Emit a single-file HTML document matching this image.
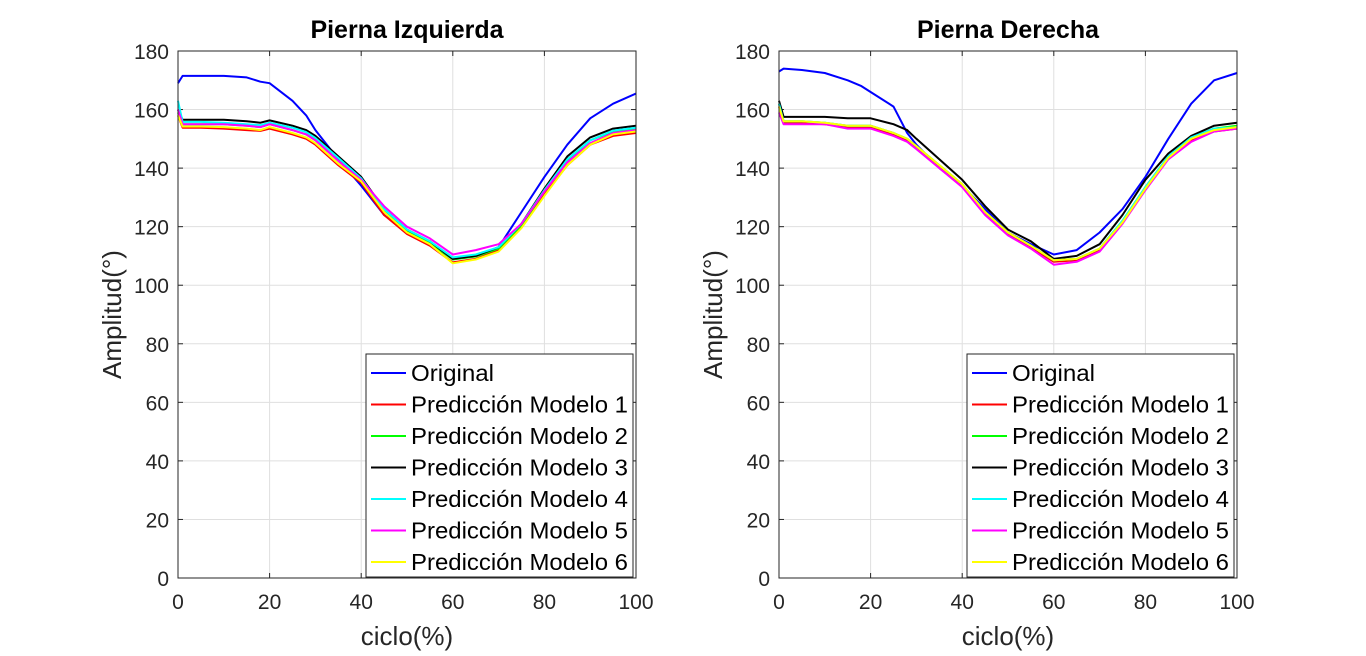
<!DOCTYPE html>
<html><head><meta charset="utf-8"><style>
body{margin:0;background:#fff;font-family:"Liberation Sans",sans-serif}
svg text{font-family:"Liberation Sans",sans-serif}
</style></head><body>
<svg id="c" width="1366" height="651"></svg>
<script>
const X = [0,1,5,10,15,18,20,25,28,30,35,40,45,50,55,60,65,70,75,80,85,90,95,100];
const xTicks = [0,20,40,60,80,100];
const yTicks = [0,20,40,60,80,100,120,140,160,180];
const seriesNames = ["Original","Predicción Modelo 1","Predicción Modelo 2","Predicción Modelo 3","Predicción Modelo 4","Predicción Modelo 5","Predicción Modelo 6"];
const seriesColors = ["#0000ff","#ff0000","#00ff00","#000000","#00ffff","#ff00ff","#ffff00"];
// left leg
const L_orig = [169,171.5,171.5,171.5,171,169.5,169,163,158,153,143,134,124,118,114,109,110,113,125,137,148,157,162,165.5];
const L_m1 = [158,153.8,153.8,153.5,153,152.7,153.5,151.5,150,148,141,135,124,117.5,113.5,107.8,109,112,120,131,141,148,151,152];
const L_m2 = [159,155,155,155,154.5,154,155,153,151.5,149.5,142.5,136,125.5,118.5,114.5,108.8,109.8,112.5,120.5,132,142.5,149.5,152.5,153.5];
const L_m3 = [160,156.5,156.5,156.5,156,155.5,156.3,154.5,153,151,144,137,126,119,115,109,110,113,121,133,144,150.5,153.5,154.5];
const L_m4 = [163,155.8,155.8,155.5,155,154.7,155.5,153.8,152.3,150.3,143.5,136.5,126,119,115,109.5,110.5,113,121,132.5,143,149.5,152.8,153.8];
const L_m5 = [160,155,155,155,154.5,154,155,153,151.5,149.5,142.5,136,127,120,116,110.5,112,114,121,132,142,148.5,152,153];
const L_m6 = [158,154.2,154.2,154,153.5,153,154,152,150.5,148.5,141.5,135.5,125,118,114,107.5,108.8,111.5,119.5,130.5,141,148,151.5,152.5];
// right leg
const R_orig = [173,174,173.5,172.5,170,168,166,161,152,148,140,134,126,118,114,110.5,112,118,126,137,150,162,170,172.5];
const R_m1 = [161,155.5,155.5,155,154,154,153.8,151.5,149.5,147,140.5,134,124.5,117.5,113,108,108.5,112,121.5,133,143.5,149.5,152.5,153.5];
const R_m2 = [162,156,156,155.5,154.5,154.5,154.5,152,150,147.5,141,134.5,125,118,113.5,108.5,109,112.5,122,133.5,144,150.5,153.5,154.5];
const R_m3 = [163,157.5,157.5,157.5,157,157,157,155,153,150,143,136,127,119,115,109,110,114,124,136,145,151,154.5,155.5];
const R_m4 = [162,156,156,155.5,154.5,154.5,154.5,152,150,147.5,141,134.5,125,118,113.5,108.5,109,112.5,122,133.5,144,150.5,153.5,154];
const R_m5 = [159,155,155,155,153.5,153.5,153.5,151,149,146.5,140,133.5,124,117,112.5,107,108,111.5,121,132.5,143,149,152.5,153.5];
const R_m6 = [161,156,156,155.5,154.5,154.5,154.5,152,150,147.5,141,134.5,125,118,113.5,108.5,109,112.5,121.5,133,143.5,150,153,154];

const NS="http://www.w3.org/2000/svg";
const svg=document.getElementById('c');
function el(t,a,p){const e=document.createElementNS(NS,t);for(const k in a)e.setAttribute(k,a[k]);(p||svg).appendChild(e);return e;}

function panel(x0,title,data,key){
  const x1=x0+458, yTop=51, yBot=578;
  const sx=v=>x0+(v/100)*(x1-x0);
  const sy=v=>yBot-(v/180)*(yBot-yTop);
  const g=el('g',{});
  
  
  el('rect',{x:x0,y:yTop,width:x1-x0,height:yBot-yTop,fill:'#fff'},g);
  xTicks.forEach(t=>{
    const l=el('line',{x1:sx(t),x2:sx(t),y1:yTop,y2:yBot,stroke:'#dfdfdf','stroke-width':1},g);
    
    
    el('line',{x1:sx(t),x2:sx(t),y1:yBot,y2:yBot-5,stroke:'#262626'},g);
    el('line',{x1:sx(t),x2:sx(t),y1:yTop,y2:yTop+5,stroke:'#262626'},g);
    const tx=el('text',{x:sx(t),y:yBot+31,'text-anchor':'middle','font-size':21,fill:'#262626'},g);
    tx.textContent=t;
    
    
  });
  yTicks.forEach(t=>{
    const l=el('line',{x1:x0,x2:x1,y1:sy(t),y2:sy(t),stroke:'#dfdfdf','stroke-width':1},g);
    
    
    el('line',{x1:x0,x2:x0+5,y1:sy(t),y2:sy(t),stroke:'#262626'},g);
    el('line',{x1:x1,x2:x1-5,y1:sy(t),y2:sy(t),stroke:'#262626'},g);
    const tx=el('text',{x:x0-9,y:sy(t)+8,'text-anchor':'end','font-size':21,fill:'#262626'},g);
    tx.textContent=t;
    
    
  });
  [0,1,2,3,4,5,6].forEach(i=>{
    const d=data[i].map((v,j)=>(j?'L':'M')+sx(X[j]).toFixed(1)+','+sy(v).toFixed(1)).join('');
    const p=el('path',{d:d,fill:'none',stroke:seriesColors[i],'stroke-width':2,'stroke-linejoin':'round'},g);
    
    
  });
  el('rect',{x:x0,y:yTop,width:x1-x0,height:yBot-yTop,fill:'none',stroke:'#262626','stroke-width':1},g);
  const tt=el('text',{x:(x0+x1)/2,y:38,'text-anchor':'middle','font-size':25,'font-weight':'bold',fill:'#000'},g);
  tt.textContent=title;
  
  
  const xl=el('text',{x:(x0+x1)/2,y:645,'text-anchor':'middle','font-size':26,fill:'#262626'},g);
  xl.textContent='ciclo(%)';
  
  
  const yl=el('text',{x:0,y:0,'text-anchor':'middle','font-size':26,fill:'#262626',transform:`translate(${x0-57},${(yTop+yBot)/2}) rotate(-90)`},g);
  yl.textContent='Amplitud(°)';
  
  
  const lx=x0+188, ly=354, lw=267, lh=223;
  const lg=el('g',{},g);
  
  
  el('rect',{x:lx,y:ly,width:lw,height:lh,fill:'#fff',stroke:'#262626','stroke-width':1},lg);
  seriesNames.forEach((n,i)=>{
    const yy=ly+19+i*31.5;
    el('line',{x1:lx+5,x2:lx+40,y1:yy,y2:yy,stroke:seriesColors[i],'stroke-width':2},lg);
    const t=el('text',{x:lx+45,y:yy+8,'font-size':23,fill:'#000',textLength:n.length>10?217:83,lengthAdjust:'spacingAndGlyphs'},lg);
    t.textContent=n;
    
    
  });
}
panel(178,'Pierna Izquierda',[L_orig,L_m1,L_m2,L_m3,L_m4,L_m5,L_m6],'left');
panel(779,'Pierna Derecha',[R_orig,R_m1,R_m2,R_m3,R_m4,R_m5,R_m6],'right');
</script>
</body></html>
